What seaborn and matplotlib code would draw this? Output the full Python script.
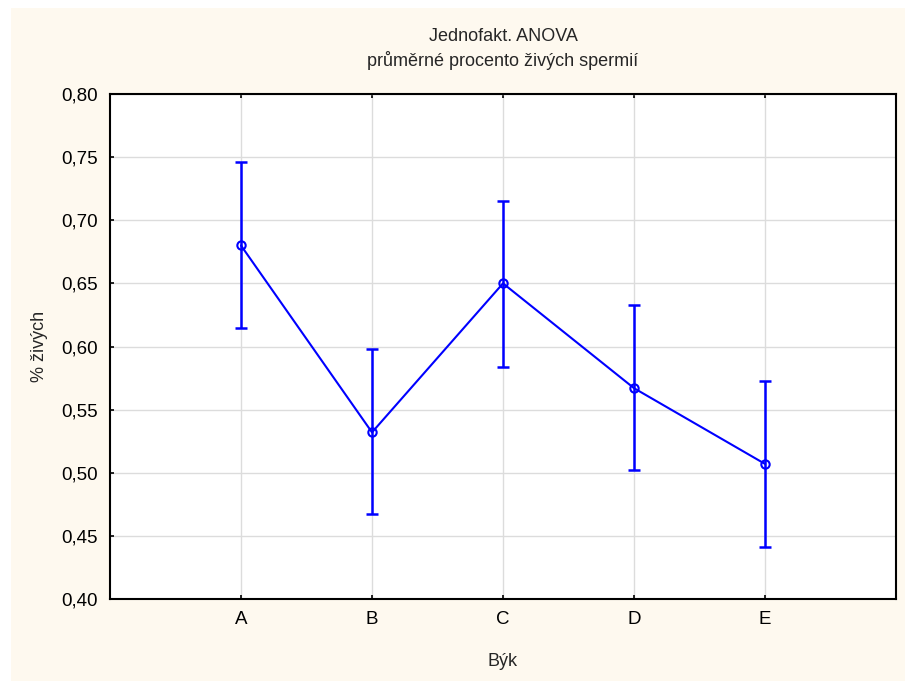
import matplotlib
matplotlib.use("Agg")
import matplotlib.pyplot as plt
import seaborn as sns
import numpy as np
import pandas as pd

# Data
byk = ["A", "B", "C", "D", "E"]
prumer = [0.680, 0.532, 0.650, 0.567, 0.507]
horni = [0.746, 0.598, 0.715, 0.633, 0.573]
dolni = [0.615, 0.467, 0.584, 0.502, 0.441]
y_ticks = [0.40, 0.45, 0.50, 0.55, 0.60, 0.65, 0.70, 0.75, 0.80]

sns.set_style("white")
plt.rcParams["font.family"] = ["Liberation Sans", "DejaVu Sans"]

df = pd.DataFrame({"Býk": byk, "prumer": prumer})
modra = "#0000FF"
pozadi = "#FEF9EF"

fig = plt.figure(figsize=(9.05, 6.81), dpi=100, facecolor="white")
fig.patches.append(plt.Rectangle((11 / 905, 0), 1, 1 - 8 / 681, transform=fig.transFigure,
                                 facecolor=pozadi, edgecolor="none", zorder=-10))
ax = fig.add_axes([110 / 905, 1 - 599 / 681, (896 - 110) / 905, (599 - 94) / 681])
ax.set_facecolor("white")

sns.pointplot(data=df, x="Býk", y="prumer", errorbar=None, color=modra, ax=ax,
              markers="o", markersize=6, linewidth=1.5,
              markerfacecolor="none", markeredgewidth=1.5, zorder=3)

pos = np.arange(len(byk))
m = np.array(prumer)
ax.errorbar(pos, m, yerr=[m - np.array(dolni), np.array(horni) - m], fmt="none",
            ecolor=modra, elinewidth=1.8, capsize=4.5, capthick=1.8, zorder=2)

ax.set_xlim(-1, 5)
ax.set_ylim(0.40, 0.80)
ax.set_yticks(y_ticks)
ax.set_yticklabels([f"{v:.2f}".replace(".", ",") for v in y_ticks])
ax.grid(True, color="#dcdcdc", linewidth=1)
ax.set_axisbelow(True)

for s in ax.spines.values():
    s.set_visible(True)
    s.set_color("black")
    s.set_linewidth(1.5)

ax.tick_params(axis="both", direction="in", length=3, width=1.2, labelsize=13.5,
               colors="black", pad=9)
ax.tick_params(axis="x", top=True, bottom=True)
ax.tick_params(axis="y", left=True, right=False)

ax.set_xlabel("Býk", fontsize=13, labelpad=18)
ax.set_ylabel("% živých", fontsize=13, labelpad=9)
ax.set_title("Jednofakt. ANOVA\nprůměrné procento živých spermií", fontsize=13,
             pad=20, linespacing=1.42)

fig.savefig("out.png", dpi=100, facecolor=fig.get_facecolor())
